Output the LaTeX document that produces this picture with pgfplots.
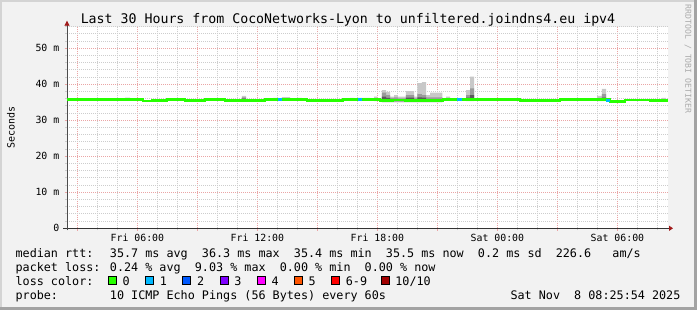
\documentclass[border=0pt]{standalone}
\usepackage{fontspec}
\setmainfont{DejaVu Sans Mono}
\usepackage{pgfplots}
\usepackage{pgfplotstable}
\pgfplotsset{compat=1.18}
\usetikzlibrary{arrows.meta}

\definecolor{bgcol}{HTML}{F2F2F2}
\definecolor{edgelight}{HTML}{D4D4D4}
\definecolor{edgedark}{HTML}{A3A3A3}
\definecolor{mgrid}{HTML}{EAA5A5}
\definecolor{ngrid}{HTML}{CDCDCD}
\definecolor{arrowred}{HTML}{A11B1B}
\definecolor{smokeA}{HTML}{C8C8C8}
\definecolor{smokeB}{HTML}{9A9A9A}
\definecolor{smokeC}{HTML}{5A5A5A}
\definecolor{lossA}{HTML}{26FF00}
\definecolor{lossB}{HTML}{00B8FF}
\definecolor{lossC}{HTML}{0059FF}
\definecolor{lossD}{HTML}{7E00FF}
\definecolor{lossE}{HTML}{FF00FF}
\definecolor{lossF}{HTML}{FF5500}
\definecolor{lossG}{HTML}{FF0000}
\definecolor{lossH}{HTML}{A10000}
\definecolor{wmark}{HTML}{ABABAB}

% median rtt (ms), hours since Fri 00:00
\pgfplotstableread{
h     m
2.48  35.7
4.13  35.75
5.13  35.7
6.28  35.35
6.73  35.55
6.98  35.45
7.48  35.7
8.38  35.4
9.38  35.7
10.38 35.4
11.63 35.5
12.38 35.7
14.48 35.45
15.13 35.55
15.78 35.4
16.28 35.7
18.13 35.5
18.78 35.65
19.38 35.5
21.28 35.7
25.13 35.5
26.13 35.6
27.13 35.7
29.63 35.3
30.38 35.65
31.63 35.4
32.53 35.4
}\mediantab

\newcommand{\ttl}{\fontsize{13.3}{15}\selectfont}
\newcommand{\lgd}{\fontsize{11.8}{14}\selectfont}
\newcommand{\tck}{\fontsize{9.9}{11}\selectfont}

\begin{document}
\begin{tikzpicture}
\path[use as bounding box] (0,0) rectangle (697bp,310bp);
\fill[bgcol] (0,0) rectangle (697bp,310bp);
\fill[edgelight] (0,0) rectangle (2bp,310bp);
\fill[edgelight] (0,308bp) rectangle (697bp,310bp);
\fill[edgedark] (694bp,0) rectangle (697bp,310bp);
\fill[edgedark] (0,0) rectangle (697bp,3bp);

\begin{axis}[
  at={(67bp,81.7bp)}, anchor=south west,
  scale only axis, width=601bp, height=201.6bp,
  xmin=2.48, xmax=32.53, ymin=0, ymax=56,
  axis lines=left,
  axis background/.style={fill=white},
  x axis line style={draw=black!80, line width=0.9bp, shorten <=-4bp, shorten >=-5bp,
    -{Triangle[length=4bp,width=5bp,color=arrowred,fill=arrowred]}},
  y axis line style={draw=black!70, line width=0.9bp, shorten <=-2bp, shorten >=-6bp,
    -{Triangle[length=5bp,width=5bp,color=arrowred,fill=arrowred]}},
  xtick={3,6,...,30},
  xticklabels={,Fri 06:00,,Fri 12:00,,Fri 18:00,,Sat 00:00,,Sat 06:00},
  minor xtick={4,5,7,8,10,11,13,14,16,17,19,20,22,23,25,26,28,29,31,32},
  ytick={0,10,20,30,40,50},
  yticklabels={0,10 m,20 m,30 m,40 m,50 m},
  minor ytick={2,4,6,8,12,14,16,18,22,24,26,28,32,34,36,38,42,44,46,48,52,54,56},
  grid=both,
  major grid style={draw=mgrid, line width=0.9bp, dash pattern=on 1bp off 1bp},
  minor grid style={draw=ngrid, line width=0.9bp, dash pattern=on 1bp off 1bp},
  tick align=outside,
  major tick length=2.5bp, minor tick length=2bp,
  major tick style={draw=mgrid, line width=0.9bp},
  minor tick style={draw=ngrid, line width=0.9bp},
  xticklabel style={font=\tck, inner sep=0pt, anchor=north, yshift=-3bp},
  yticklabel style={font=\tck, inner sep=0pt, anchor=east, xshift=-5bp},
  unbounded coords=jump,
]
% light smoke (min..max of the 10 pings)
\addplot[fill=smokeA, draw=none, forget plot] coordinates {
 (5.38,35.4) (5.63,35.4) (5.63,36.3) (5.38,36.3) (5.38,nan)
 (11.22,35.2) (11.43,35.2) (11.43,36.75) (11.22,36.75) (11.22,nan)
 (12.78,35.5) (13.03,35.5) (13.03,36.2) (12.78,36.2) (12.78,nan)
 (13.22,35.5) (13.63,35.5) (13.63,36.45) (13.22,36.45) (13.22,nan)
 (13.98,35.5) (14.22,35.5) (14.22,36.2) (13.98,36.2) (13.98,nan)
 (16.63,35.5) (16.85,35.5) (16.85,36.2) (16.63,36.2) (16.63,nan)
 (17.03,35.5) (17.63,35.5) (17.63,36.2) (17.03,36.2) (17.03,nan)
 (17.83,35.3) (17.98,35.3) (17.98,36.6) (17.83,36.6) (17.83,nan)
 (18.22,38.4) (18.43,38.4) (18.43,37.9) (18.63,37.9) (18.63,36.6) (18.83,36.6)
 (18.83,37.0) (19.02,37.0) (19.02,36.6) (19.42,36.6) (19.42,38.1) (19.83,38.1)
 (19.83,36.6) (20.00,36.6) (20.00,40.3) (20.22,40.3) (20.22,40.6) (20.43,40.6)
 (20.43,37.0) (20.63,37.0) (20.63,37.7) (21.25,37.7) (21.25,35.0) (18.22,35.0) (18.22,nan)
 (21.43,35.4) (21.63,35.4) (21.63,36.6) (21.43,36.6) (21.43,nan)
 (22.43,38.4) (22.63,38.4) (22.63,42.1) (22.83,42.1) (22.83,35.3) (22.43,35.3) (22.43,nan)
 (28.98,36.8) (29.22,36.8) (29.22,38.7) (29.43,38.7) (29.43,35.3) (28.98,35.3) (28.98,nan)
 (32.22,35.2) (32.43,35.2) (32.43,36.2) (32.22,36.2)
};
% mid smoke
\addplot[fill=smokeB, draw=none, forget plot] coordinates {
 (11.22,35.3) (11.43,35.3) (11.43,36.4) (11.22,36.4) (11.22,nan)
 (13.22,35.6) (13.63,35.6) (13.63,36.1) (13.22,36.1) (13.22,nan)
 (18.22,37.7) (18.43,37.7) (18.43,37.0) (18.63,37.0) (18.63,36.2) (18.83,36.2)
 (18.83,36.4) (19.02,36.4) (19.02,36.1) (19.42,36.1) (19.42,37.0) (19.83,37.0)
 (19.83,36.1) (20.00,36.1) (20.00,37.3) (20.22,37.3) (20.22,37.0) (20.43,37.0)
 (20.43,36.4) (21.25,36.4) (21.25,35.2) (18.22,35.2) (18.22,nan)
 (22.43,37.0) (22.63,37.0) (22.63,38.9) (22.83,38.9) (22.83,35.4) (22.43,35.4) (22.43,nan)
 (28.98,36.2) (29.22,36.2) (29.22,37.3) (29.43,37.3) (29.43,35.4) (28.98,35.4)
};
% dark smoke
\addplot[fill=smokeC, draw=none, forget plot] coordinates {
 (11.22,35.5) (11.43,35.5) (11.43,36.0) (11.22,36.0) (11.22,nan)
 (18.22,36.6) (18.43,36.6) (18.43,36.2) (18.63,36.2) (18.63,35.4) (18.22,35.4) (18.22,nan)
 (19.42,35.3) (19.83,35.3) (19.83,36.3) (19.42,36.3) (19.42,nan)
 (20.00,36.4) (20.22,36.4) (20.22,36.3) (20.43,36.3) (20.43,35.3) (20.00,35.3) (20.00,nan)
 (22.43,36.3) (22.63,36.3) (22.63,37.0) (22.83,37.0) (22.83,35.5) (22.43,35.5) (22.43,nan)
 (29.22,35.5) (29.43,35.5) (29.43,36.3) (29.22,36.3)
};
% median line, 0 loss
\addplot[const plot, draw=lossA, line width=2.8bp, forget plot] table[x=h, y=m] {\mediantab};
% median line segments with 1 of 10 lost
\addplot[const plot, draw=lossB, line width=2.8bp, forget plot] coordinates {(13.02,35.7) (13.22,35.7)};
\addplot[const plot, draw=lossB, line width=2.8bp, forget plot] coordinates {(17.02,35.7) (17.25,35.7)};
\addplot[const plot, draw=lossB, line width=2.8bp, forget plot] coordinates {(21.98,35.7) (22.23,35.7)};
\addplot[const plot, draw=lossB, line width=2.8bp, forget plot] coordinates {(29.43,35.6) (29.63,35.6)};
\end{axis}

% title, axis label, watermark
\node[font=\ttl, anchor=base, inner sep=0pt] at (348bp,286bp)
  {Last 30 Hours from CocoNetworks-Lyon to unfiltered.joindns4.eu ipv4};
\node[font=\fontsize{10}{12}\selectfont, rotate=90, inner sep=0pt] at (10.8bp,182.5bp) {Seconds};
\node[font=\fontsize{8.2}{10}\selectfont, rotate=-90, inner sep=0pt, text=wmark] at (688bp,251bp)
  {RRDTOOL / TOBI OETIKER};

% legend
\node[font=\lgd, anchor=base west, inner sep=0pt] at (15.4bp,52.2bp)
  {median rtt:~ 35.7 ms avg~ 36.3 ms max~ 35.4 ms min~ 35.5 ms now~ 0.2 ms sd~ 226.6~~ am/s};
\node[font=\lgd, anchor=base west, inner sep=0pt] at (15.4bp,38.3bp)
  {packet loss: 0.24 \% avg~ 9.03 \% max~ 0.00 \% min~ 0.00 \% now};
\node[font=\lgd, anchor=base west, inner sep=0pt] at (15.4bp,24.2bp) {loss color:};
\filldraw[fill=lossA, draw=black, line width=0.8bp] (108.3bp,25.9bp) rectangle ++(8bp,8bp);
\filldraw[fill=lossB, draw=black, line width=0.8bp] (145.5bp,25.9bp) rectangle ++(8bp,8bp);
\filldraw[fill=lossC, draw=black, line width=0.8bp] (182.7bp,25.9bp) rectangle ++(8bp,8bp);
\filldraw[fill=lossD, draw=black, line width=0.8bp] (219.9bp,25.9bp) rectangle ++(8bp,8bp);
\filldraw[fill=lossE, draw=black, line width=0.8bp] (257.1bp,25.9bp) rectangle ++(8bp,8bp);
\filldraw[fill=lossF, draw=black, line width=0.8bp] (294.3bp,25.9bp) rectangle ++(8bp,8bp);
\filldraw[fill=lossG, draw=black, line width=0.8bp] (331.5bp,25.9bp) rectangle ++(8bp,8bp);
\filldraw[fill=lossH, draw=black, line width=0.8bp] (381.7bp,25.9bp) rectangle ++(8bp,8bp);
\node[font=\lgd, anchor=base west, inner sep=0pt] at (122.5bp,24.2bp) {0};
\node[font=\lgd, anchor=base west, inner sep=0pt] at (159.7bp,24.2bp) {1};
\node[font=\lgd, anchor=base west, inner sep=0pt] at (196.9bp,24.2bp) {2};
\node[font=\lgd, anchor=base west, inner sep=0pt] at (234.1bp,24.2bp) {3};
\node[font=\lgd, anchor=base west, inner sep=0pt] at (271.3bp,24.2bp) {4};
\node[font=\lgd, anchor=base west, inner sep=0pt] at (308.5bp,24.2bp) {5};
\node[font=\lgd, anchor=base west, inner sep=0pt] at (345.7bp,24.2bp) {6-9};
\node[font=\lgd, anchor=base west, inner sep=0pt] at (395.2bp,24.2bp) {10/10};
\node[font=\lgd, anchor=base west, inner sep=0pt] at (15.4bp,10.7bp)
  {probe:~~~~~~ 10 ICMP Echo Pings (56 Bytes) every 60s};
\node[font=\lgd, anchor=base east, inner sep=0pt] at (680.6bp,10.7bp)
  {Sat Nov~ 8 08:25:54 2025};
\end{tikzpicture}
\end{document}
